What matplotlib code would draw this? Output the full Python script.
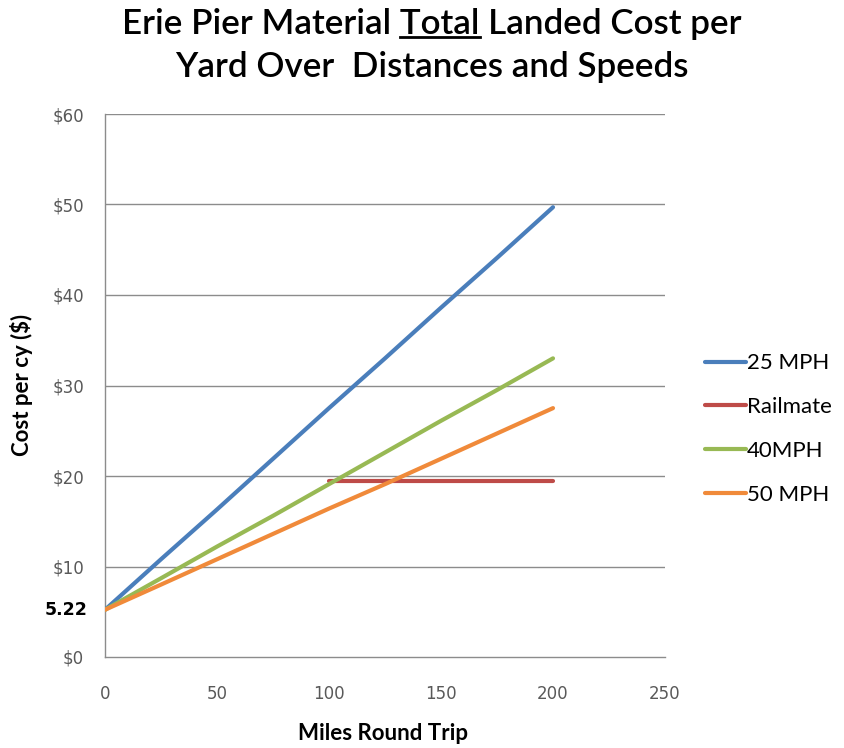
import matplotlib
matplotlib.use("Agg")
import matplotlib.pyplot as plt
from matplotlib.lines import Line2D

# Round-trip distance (miles) and landed cost per cubic yard ($)
miles = [0, 25, 50, 75, 100, 125, 150, 175, 200]
cost_25mph = [5.22, 10.8, 16.3, 21.9, 27.5, 33.0, 38.6, 44.1, 49.7]
cost_40mph = [5.22, 8.7, 12.2, 15.6, 19.1, 22.6, 26.1, 29.5, 33.0]
cost_50mph = [5.22, 8.0, 10.8, 13.6, 16.4, 19.1, 21.9, 24.7, 27.5]
railmate_miles = [100, 200]
railmate_cost = [19.5, 19.5]

base_cost = 5.22
y_ticks = [0, 10, 20, 30, 40, 50, 60]
y_tick_labels = ["$0", "$10", "$20", "$30", "$40", "$50", "$60"]
x_ticks = [0, 50, 100, 150, 200, 250]

title_font = "Lato"

fig = plt.figure(figsize=(8.45, 7.48), dpi=100)
ax = fig.add_axes([105 / 845, 1 - 657 / 748, 560 / 845, (657 - 114) / 748])

c_blue = "#4A7EBB"
c_red = "#BE4B48"
c_green = "#98B954"
c_orange = "#F08A3A"
lw = 3.0

l25, = ax.plot(miles, cost_25mph, color=c_blue, lw=lw, solid_capstyle="round", zorder=3)
lrm, = ax.plot(railmate_miles, railmate_cost, color=c_red, lw=lw, solid_capstyle="round", zorder=3)
l40, = ax.plot(miles, cost_40mph, color=c_green, lw=lw, solid_capstyle="round", zorder=3)
l50, = ax.plot(miles, cost_50mph, color=c_orange, lw=lw, solid_capstyle="round", zorder=4)

ax.set_xlim(0, 250)
ax.set_ylim(0, 60)

grid_color = "#8C8C8C"
for y in y_ticks[1:]:
    ax.axhline(y, color=grid_color, lw=1.0, zorder=1)

for side in ["top", "right"]:
    ax.spines[side].set_visible(False)
for side in ["left", "bottom"]:
    ax.spines[side].set_color(grid_color)
    ax.spines[side].set_linewidth(1.0)

tick_color = "#595959"
ax.set_xticks(x_ticks)
ax.set_xticklabels([str(v) for v in x_ticks])
ax.set_yticks(y_ticks)
ax.set_yticklabels(y_tick_labels)
ax.tick_params(axis="both", length=0, labelsize=12, labelcolor=tick_color)
ax.tick_params(axis="x", pad=20)
ax.tick_params(axis="y", pad=15)

# Starting (zero-distance) cost marked on the y axis
ax.annotate(f"{base_cost:.2f}", xy=(0, base_cost), xycoords=("axes fraction", "data"),
            xytext=(-17, 0), textcoords="offset pixels", ha="right", va="center",
            fontsize=12.5, fontweight="bold", color="black", annotation_clip=False)

# Axis titles placed in figure coordinates
fig.text(383 / 845, 1 - 733 / 748, "Miles Round Trip", ha="center", va="center",
         fontsize=16, fontweight="bold", family=title_font)
fig.text(22 / 845, 1 - 385 / 748, "Cost per cy ($)", ha="center", va="center", rotation=90,
         fontsize=16, fontweight="bold", family=title_font)

# Legend to the right of the plot area
handles = [l25, lrm, l40, l50]
labels = ["25 MPH", "Railmate", "40MPH", "50 MPH"]
leg = fig.legend(handles, labels, loc="center left", bbox_to_anchor=(685 / 845, 1 - 429 / 748),
                 frameon=False, handlelength=1.85, handletextpad=0.05,
                 labelspacing=1.07, prop={"family": title_font, "size": 16})

# Two-line title with "Total" underlined
line1_prefix = "Erie Pier Material "
line1_word = "Total"
line1 = line1_prefix + line1_word + " Landed Cost per"
line2 = "Yard Over  Distances and Speeds"
tsize = 25.2
tweight = "semibold"
cx = 432 / 845
t1 = fig.text(cx, 1 - 24 / 748, line1, ha="center", va="center", fontsize=tsize,
              family=title_font, fontweight=tweight)
t2 = fig.text(cx, 1 - 67 / 748, line2, ha="center", va="center", fontsize=tsize,
              family=title_font, fontweight=tweight)

renderer = fig.canvas.get_renderer()
full_bb = t1.get_window_extent(renderer)
probe = fig.text(0, 0, line1_prefix, fontsize=tsize, family=title_font, fontweight=tweight)
pre_w = probe.get_window_extent(renderer).width
probe.set_text(line1_prefix + line1_word)
word_end = probe.get_window_extent(renderer).width
probe.remove()
x0 = (full_bb.x0 + pre_w) / fig.bbox.width
x1 = (full_bb.x0 + word_end) / fig.bbox.width
uy = (full_bb.y0 + 3) / fig.bbox.height
fig.add_artist(Line2D([x0, x1], [uy, uy], transform=fig.transFigure, color="black", lw=2))

fig.savefig("out.png", dpi=100, facecolor="white")
